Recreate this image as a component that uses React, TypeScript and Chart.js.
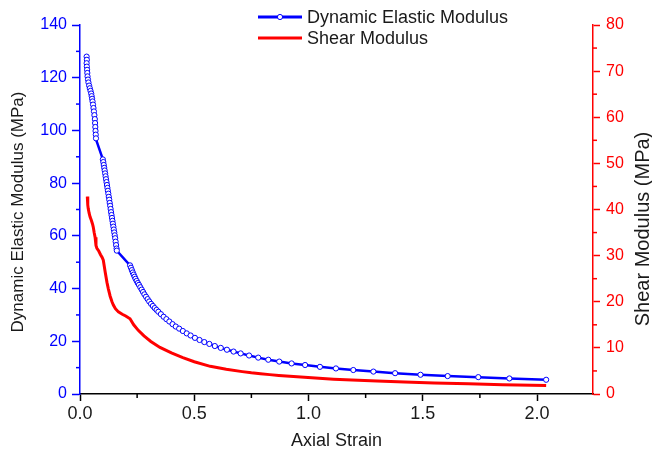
import React, { useEffect, useRef } from "react";
import { Chart, registerables } from "chart.js";

Chart.register(...registerables);

// Dynamic Elastic Modulus (left axis, MPa) vs axial strain
const strainE = [
  0.029, 0.03, 0.029, 0.03, 0.031, 0.032, 0.033, 0.035, 0.037, 0.04, 0.043, 0.046, 0.049,
  0.051, 0.053, 0.055, 0.057, 0.059, 0.061, 0.063, 0.065, 0.066, 0.067, 0.068, 0.069, 0.07,
  0.1, 0.102, 0.104, 0.106, 0.108, 0.11, 0.112, 0.114, 0.116, 0.118, 0.12, 0.122, 0.124,
  0.126, 0.128, 0.13, 0.132, 0.134, 0.136, 0.138, 0.14, 0.142, 0.144, 0.146, 0.148, 0.15,
  0.152, 0.154, 0.156, 0.158, 0.16, 0.161,
  0.219, 0.223, 0.227, 0.231, 0.235, 0.239, 0.243, 0.248, 0.253, 0.258, 0.264, 0.27, 0.276,
  0.282, 0.289, 0.296, 0.303, 0.311, 0.319, 0.327, 0.335, 0.343, 0.354, 0.366, 0.378, 0.391,
  0.405, 0.419, 0.434, 0.45, 0.467, 0.484, 0.503, 0.523, 0.544, 0.566, 0.59, 0.616, 0.643,
  0.672, 0.703, 0.74, 0.78, 0.824, 0.872, 0.926, 0.985, 1.05, 1.12, 1.196, 1.284, 1.379,
  1.49, 1.609, 1.743, 1.879, 2.04,
];
const modulusE = [
  128.0, 126.8, 125.5, 124.2, 123.0, 121.8, 120.5, 119.3, 118.2, 117.0, 116.0, 115.0, 114.0,
  113.0, 112.0, 111.0, 109.8, 108.5, 107.2, 105.8, 104.3, 102.8, 101.3, 99.8, 98.4, 97.0,
  89.0, 88.0, 86.9, 85.8, 84.8, 83.7, 82.6, 81.5, 80.4, 79.3, 78.2, 77.1, 76.0,
  74.8, 73.7, 72.5, 71.4, 70.2, 69.0, 67.9, 66.8, 65.7, 64.6, 63.5, 62.4, 61.3,
  60.2, 59.1, 57.8, 56.5, 55.2, 54.4,
  48.8, 47.9, 47.0, 46.1, 45.3, 44.5, 43.7, 42.9, 42.1, 41.4, 40.5, 39.6, 38.7,
  37.8, 36.9, 36.0, 35.1, 34.2, 33.4, 32.6, 31.9, 31.2, 30.3, 29.3, 28.4, 27.5,
  26.5, 25.6, 24.8, 23.9, 23.0, 22.2, 21.3, 20.5, 19.7, 19.0, 18.2, 17.5, 16.8,
  16.1, 15.4, 14.6, 13.8, 13.0, 12.3, 11.6, 11.0, 10.3, 9.7, 9.1, 8.5, 7.9,
  7.3, 6.8, 6.4, 5.9, 5.4,
];

// Shear Modulus (right axis, MPa) vs axial strain
const strainG = [
  0.032, 0.034, 0.036, 0.04, 0.044, 0.05, 0.055, 0.058, 0.062, 0.066, 0.07, 0.074, 0.082,
  0.09, 0.097, 0.102, 0.11, 0.118, 0.124, 0.132, 0.14, 0.146, 0.155, 0.168, 0.185, 0.2,
  0.219, 0.235, 0.255, 0.28, 0.31, 0.35, 0.4, 0.45, 0.5, 0.57, 0.64, 0.71, 0.75, 0.79, 0.83,
  0.87, 0.95, 1.03, 1.11, 1.19, 1.3, 1.42, 1.55, 1.7, 1.85, 2.04,
];
const modulusG = [
  42.8, 41.0, 40.2, 39.2, 38.4, 37.6, 36.8, 36.2, 35.0, 34.0, 32.2, 31.6, 31.0,
  30.2, 29.6, 29.0, 26.5, 24.2, 22.8, 21.2, 20.0, 19.3, 18.5, 17.8, 17.3, 16.9,
  16.3, 15.0, 13.8, 12.6, 11.4, 10.1, 8.9, 7.9, 7.0, 6.0, 5.35, 4.85, 4.6, 4.4, 4.2,
  4.02, 3.72, 3.45, 3.22, 3.02, 2.8, 2.6, 2.4, 2.2, 2.02, 1.85,
];

const strainTicks = [0, 0.5, 1.0, 1.5, 2.0];
const strainMinorTicks = [0.25, 0.75, 1.25, 1.75];
const elasticTicks = [0, 20, 40, 60, 80, 100, 120, 140];
const elasticMinorTicks = [10, 30, 50, 70, 90, 110, 130];
const shearTicks = [0, 10, 20, 30, 40, 50, 60, 70, 80];
const shearMinorTicks = [5, 15, 25, 35, 45, 55, 65, 75];

const labelE = "Dynamic Elastic Modulus";
const labelG = "Shear Modulus";
const titleX = "Axial Strain";
const titleY = "Dynamic Elastic Modulus (MPa)";
const titleY2 = "Shear Modulus (MPa)";

const FONT = '"Liberation Sans", Arial, Helvetica, sans-serif';
const BLUE = "#0000ff";
const RED = "#ff0000";
const INK = "#1a1a1a";

export default function App() {
  const ref = useRef<HTMLCanvasElement | null>(null);

  useEffect(() => {
    if (!ref.current) return;

    const decor = {
      id: "decor",
      afterDraw(chart: any) {
        const ctx = chart.ctx as CanvasRenderingContext2D;
        const { x, y, y2 } = chart.scales;
        const area = chart.chartArea;
        ctx.save();
        ctx.lineWidth = 1.5;

        // minor ticks
        ctx.strokeStyle = "#000";
        strainMinorTicks.forEach((v) => {
          const px = x.getPixelForValue(v);
          ctx.beginPath();
          ctx.moveTo(px, area.bottom);
          ctx.lineTo(px, area.bottom + 4);
          ctx.stroke();
        });
        ctx.strokeStyle = BLUE;
        elasticMinorTicks.forEach((v) => {
          const py = y.getPixelForValue(v);
          ctx.beginPath();
          ctx.moveTo(area.left, py);
          ctx.lineTo(area.left - 4, py);
          ctx.stroke();
        });
        ctx.strokeStyle = RED;
        shearMinorTicks.forEach((v) => {
          const py = y2.getPixelForValue(v);
          ctx.beginPath();
          ctx.moveTo(area.right, py);
          ctx.lineTo(area.right + 4, py);
          ctx.stroke();
        });

        // axis titles
        ctx.fillStyle = INK;
        ctx.textAlign = "center";
        ctx.textBaseline = "middle";
        ctx.font = `18px ${FONT}`;
        ctx.fillText(titleX, (area.left + area.right) / 2, 441);

        ctx.save();
        ctx.translate(18, 212);
        ctx.rotate(-Math.PI / 2);
        ctx.font = `17px ${FONT}`;
        ctx.fillText(titleY, 0, 0);
        ctx.restore();

        ctx.save();
        ctx.translate(643, 229);
        ctx.rotate(-Math.PI / 2);
        ctx.font = `20px ${FONT}`;
        ctx.fillText(titleY2, 0, 0);
        ctx.restore();

        // legend
        const lx0 = 258;
        const lx1 = 302;
        ctx.lineWidth = 3;
        ctx.strokeStyle = BLUE;
        ctx.beginPath();
        ctx.moveTo(lx0, 17);
        ctx.lineTo(lx1, 17);
        ctx.stroke();
        ctx.beginPath();
        ctx.arc((lx0 + lx1) / 2, 17, 2.6, 0, Math.PI * 2);
        ctx.fillStyle = "#fff";
        ctx.fill();
        ctx.lineWidth = 1;
        ctx.stroke();

        ctx.lineWidth = 3;
        ctx.strokeStyle = RED;
        ctx.beginPath();
        ctx.moveTo(lx0, 38);
        ctx.lineTo(lx1, 38);
        ctx.stroke();

        ctx.fillStyle = INK;
        ctx.textAlign = "left";
        ctx.textBaseline = "middle";
        ctx.font = `18px ${FONT}`;
        ctx.fillText(labelE, 307, 18);
        ctx.fillText(labelG, 307, 39);

        ctx.restore();
      },
    };

    const chart = new Chart(ref.current, {
      type: "line",
      data: {
        datasets: [
          {
            label: labelE,
            data: strainE.map((s, i) => ({ x: s, y: modulusE[i] })),
            yAxisID: "y",
            borderColor: BLUE,
            borderWidth: 2.5,
            pointRadius: 2.6,
            pointBorderWidth: 1,
            pointBackgroundColor: "#ffffff",
            pointBorderColor: BLUE,
            tension: 0,
            fill: false,
          },
          {
            label: labelG,
            data: strainG.map((s, i) => ({ x: s, y: modulusG[i] })),
            yAxisID: "y2",
            borderColor: RED,
            borderWidth: 3,
            pointRadius: 0,
            tension: 0,
            fill: false,
          },
        ],
      },
      options: {
        responsive: false,
        maintainAspectRatio: false,
        animation: false,
        layout: { padding: { top: 25, left: 0, right: 0, bottom: 0 } },
        plugins: {
          legend: { display: false },
          tooltip: { enabled: false },
        },
        scales: {
          x: {
            type: "linear",
            min: 0,
            max: 2.245,
            afterBuildTicks: (s: any) => {
              s.ticks = strainTicks.map((v) => ({ value: v }));
            },
            afterFit: (s: any) => {
              s.height = 58;
            },
            ticks: {
              callback: (v: any) => Number(v).toFixed(1),
              font: { family: FONT, size: 18 },
              color: INK,
              padding: 2,
              maxRotation: 0,
              autoSkip: false,
            },
            grid: {
              display: true,
              drawOnChartArea: false,
              drawTicks: true,
              tickLength: 7,
              tickWidth: 1.5,
              tickColor: "#000",
            },
            border: { display: true, color: "#000", width: 1.5 },
          },
          y: {
            type: "linear",
            position: "left",
            min: 0,
            max: 140,
            afterBuildTicks: (s: any) => {
              s.ticks = elasticTicks.map((v) => ({ value: v }));
            },
            afterFit: (s: any) => {
              s.width = 80;
            },
            ticks: {
              callback: (v: any) => String(v),
              font: { family: FONT, size: 16 },
              color: BLUE,
              padding: 5,
              autoSkip: false,
            },
            grid: {
              display: true,
              drawOnChartArea: false,
              drawTicks: true,
              tickLength: 8,
              tickWidth: 1.5,
              tickColor: BLUE,
            },
            border: { display: true, color: BLUE, width: 1.5 },
          },
          y2: {
            type: "linear",
            position: "right",
            min: 0,
            max: 80,
            afterBuildTicks: (s: any) => {
              s.ticks = shearTicks.map((v) => ({ value: v }));
            },
            afterFit: (s: any) => {
              s.width = 59;
            },
            ticks: {
              callback: (v: any) => String(v),
              font: { family: FONT, size: 16 },
              color: RED,
              padding: 6,
              autoSkip: false,
            },
            grid: {
              display: true,
              drawOnChartArea: false,
              drawTicks: true,
              tickLength: 7,
              tickWidth: 1.5,
              tickColor: RED,
            },
            border: { display: true, color: RED, width: 1.5 },
          },
        },
      },
      plugins: [decor],
    } as any);

    return () => chart.destroy();
  }, []);

  return (
    <div style={{ position: "absolute", left: 0, top: 0, width: 652, height: 452, background: "#fff" }}>
      <canvas ref={ref} width={652} height={452} style={{ display: "block" }} />
    </div>
  );
}
